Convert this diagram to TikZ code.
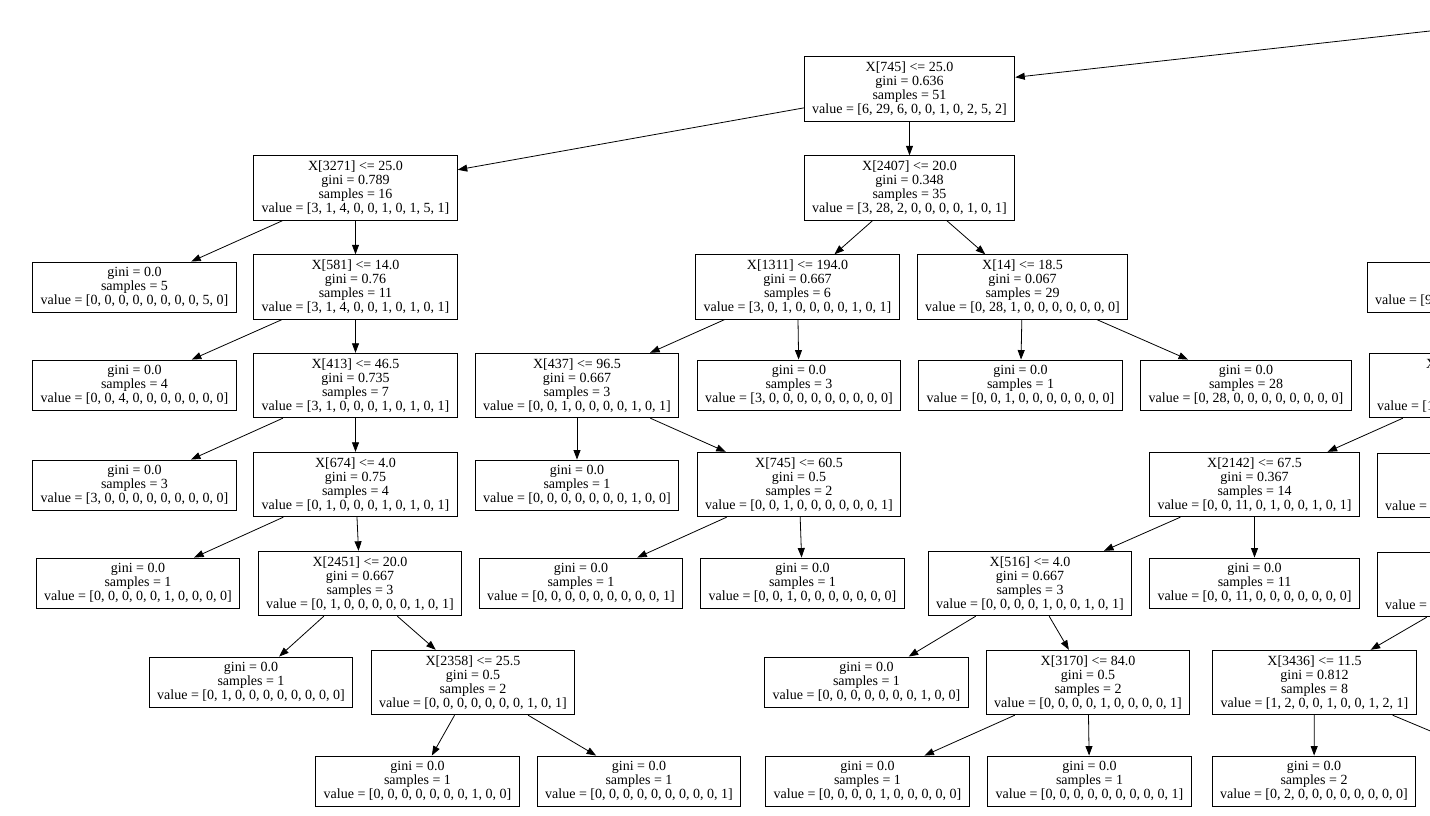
\documentclass[tikz,border=0pt]{standalone}
\usepackage{fontspec}
\setmainfont{Liberation Serif}
\usetikzlibrary{arrows.meta}

\tikzset{
  split/.style={draw, line width=0.9pt, align=center, inner xsep=8pt, inner ysep=0pt,
    minimum height=64.5pt, font=\fontsize{14}{14}\selectfont},
  leaf/.style={split, minimum height=50pt},
  cut/.style={draw, line width=0.9pt, inner sep=0pt},
  frag/.style={inner sep=0pt, anchor=base west, font=\fontsize{14}{14}\selectfont},
  link/.style={line width=0.8pt, -{Triangle[length=9.5pt,width=7pt]}}
}

\begin{document}
\begin{tikzpicture}[x=1pt,y=-1pt]
  \useasboundingbox (0,0) rectangle (1430,816);
  \clip (0,0) rectangle (1430,816);
  \coordinate (up) at (1430,31);
  \coordinate (o28) at (1550,781);
  \node[split] (n0) at (909.5,89) {X[745] <= 25.0\\gini = 0.636\\samples = 51\\value = [6, 29, 6, 0, 0, 1, 0, 2, 5, 2]};
  \node[split] (n1) at (355.5,188) {X[3271] <= 25.0\\gini = 0.789\\samples = 16\\value = [3, 1, 4, 0, 0, 1, 0, 1, 5, 1]};
  \node[split] (n2) at (909.5,188) {X[2407] <= 20.0\\gini = 0.348\\samples = 35\\value = [3, 28, 2, 0, 0, 0, 0, 1, 0, 1]};
  \node[leaf] (n3) at (134.5,287) {gini = 0.0\\samples = 5\\value = [0, 0, 0, 0, 0, 0, 0, 0, 5, 0]};
  \node[split] (n4) at (355.5,287) {X[581] <= 14.0\\gini = 0.76\\samples = 11\\value = [3, 1, 4, 0, 0, 1, 0, 1, 0, 1]};
  \node[split] (n5) at (797.5,287) {X[1311] <= 194.0\\gini = 0.667\\samples = 6\\value = [3, 0, 1, 0, 0, 0, 0, 1, 0, 1]};
  \node[split] (n6) at (1022.5,287) {X[14] <= 18.5\\gini = 0.067\\samples = 29\\value = [0, 28, 1, 0, 0, 0, 0, 0, 0, 0]};
  \node[cut, minimum width=212pt, minimum height=50pt] (c3) at (1473,287) {};
  \node[leaf] (n7) at (134.5,385) {gini = 0.0\\samples = 4\\value = [0, 0, 4, 0, 0, 0, 0, 0, 0, 0]};
  \node[split] (n8) at (355.5,385.5) {X[413] <= 46.5\\gini = 0.735\\samples = 7\\value = [3, 1, 0, 0, 0, 1, 0, 1, 0, 1]};
  \node[split] (n9) at (577,385.5) {X[437] <= 96.5\\gini = 0.667\\samples = 3\\value = [0, 0, 1, 0, 0, 0, 0, 1, 0, 1]};
  \node[leaf] (n10) at (799,385) {gini = 0.0\\samples = 3\\value = [3, 0, 0, 0, 0, 0, 0, 0, 0, 0]};
  \node[leaf] (n11) at (1020.5,385) {gini = 0.0\\samples = 1\\value = [0, 0, 1, 0, 0, 0, 0, 0, 0, 0]};
  \node[leaf] (n12) at (1246,385) {gini = 0.0\\samples = 28\\value = [0, 28, 0, 0, 0, 0, 0, 0, 0, 0]};
  \node[cut, minimum width=214pt, minimum height=64.5pt] (c4) at (1476,385.5) {};
  \node[leaf] (n13) at (134.5,485) {gini = 0.0\\samples = 3\\value = [3, 0, 0, 0, 0, 0, 0, 0, 0, 0]};
  \node[split] (n14) at (355.5,484.5) {X[674] <= 4.0\\gini = 0.75\\samples = 4\\value = [0, 1, 0, 0, 0, 1, 0, 1, 0, 1]};
  \node[leaf] (n15) at (577,485) {gini = 0.0\\samples = 1\\value = [0, 0, 0, 0, 0, 0, 0, 1, 0, 0]};
  \node[split] (n16) at (799,484.5) {X[745] <= 60.5\\gini = 0.5\\samples = 2\\value = [0, 0, 1, 0, 0, 0, 0, 0, 0, 1]};
  \node[split] (n17) at (1254.5,484.5) {X[2142] <= 67.5\\gini = 0.367\\samples = 14\\value = [0, 0, 11, 0, 1, 0, 0, 1, 0, 1]};
  \node[cut, minimum width=212pt, minimum height=64.5pt] (c5) at (1483,485.5) {};
  \node[leaf] (n18) at (138,583) {gini = 0.0\\samples = 1\\value = [0, 0, 0, 0, 0, 1, 0, 0, 0, 0]};
  \node[split] (n19) at (360,583.5) {X[2451] <= 20.0\\gini = 0.667\\samples = 3\\value = [0, 1, 0, 0, 0, 0, 0, 1, 0, 1]};
  \node[leaf] (n20) at (581,583) {gini = 0.0\\samples = 1\\value = [0, 0, 0, 0, 0, 0, 0, 0, 0, 1]};
  \node[leaf] (n21) at (802.5,583) {gini = 0.0\\samples = 1\\value = [0, 0, 1, 0, 0, 0, 0, 0, 0, 0]};
  \node[split] (n22) at (1030,583.5) {X[516] <= 4.0\\gini = 0.667\\samples = 3\\value = [0, 0, 0, 0, 1, 0, 0, 1, 0, 1]};
  \node[leaf] (n23) at (1254.5,583) {gini = 0.0\\samples = 11\\value = [0, 0, 11, 0, 0, 0, 0, 0, 0, 0]};
  \node[cut, minimum width=212pt, minimum height=64.5pt] (c6) at (1483,584.5) {};
  \node[leaf] (n24) at (251,682) {gini = 0.0\\samples = 1\\value = [0, 1, 0, 0, 0, 0, 0, 0, 0, 0]};
  \node[split] (n25) at (473,682.5) {X[2358] <= 25.5\\gini = 0.5\\samples = 2\\value = [0, 0, 0, 0, 0, 0, 0, 1, 0, 1]};
  \node[leaf] (n26) at (866.5,682) {gini = 0.0\\samples = 1\\value = [0, 0, 0, 0, 0, 0, 0, 1, 0, 0]};
  \node[split] (n27) at (1088,682.5) {X[3170] <= 84.0\\gini = 0.5\\samples = 2\\value = [0, 0, 0, 0, 1, 0, 0, 0, 0, 1]};
  \node[split] (n28) at (1314.5,682.5) {X[3436] <= 11.5\\gini = 0.812\\samples = 8\\value = [1, 2, 0, 0, 1, 0, 0, 1, 2, 1]};
  \node[leaf] (n29) at (417.5,781) {gini = 0.0\\samples = 1\\value = [0, 0, 0, 0, 0, 0, 0, 1, 0, 0]};
  \node[leaf] (n30) at (639,781) {gini = 0.0\\samples = 1\\value = [0, 0, 0, 0, 0, 0, 0, 0, 0, 1]};
  \node[leaf] (n31) at (867.5,781) {gini = 0.0\\samples = 1\\value = [0, 0, 0, 0, 1, 0, 0, 0, 0, 0]};
  \node[leaf] (n32) at (1089.5,781) {gini = 0.0\\samples = 1\\value = [0, 0, 0, 0, 0, 0, 0, 0, 0, 1]};
  \node[leaf] (n33) at (1314,781) {gini = 0.0\\samples = 2\\value = [0, 2, 0, 0, 0, 0, 0, 0, 0, 0]};
  \node[frag] (c3t) at (1375,304) {value = [9};
  \node[frag] (c4x) at (1426,368) {X};
  \node[frag] (c4t) at (1377,410) {value = [1};
  \node[frag] (c5t) at (1385,510) {value = [};
  \node[frag] (c6t) at (1385,609) {value = [};
  \draw[link] (up) -- (n0);
  \draw[link] (n0) -- (n1);
  \draw[link] (n0) -- (n2);
  \draw[link] (n1) -- (n3);
  \draw[link] (n1) -- (n4);
  \draw[link] (n2) -- (n5);
  \draw[link] (n2) -- (n6);
  \draw[link] (n4) -- (n7);
  \draw[link] (n4) -- (n8);
  \draw[link] (n5) -- (n9);
  \draw[link] (n5) -- (n10);
  \draw[link] (n6) -- (n11);
  \draw[link] (n6) -- (n12);
  \draw[link] (n8) -- (n13);
  \draw[link] (n8) -- (n14);
  \draw[link] (n9) -- (n15);
  \draw[link] (n9) -- (n16);
  \draw[link] (c4) -- (n17);
  \draw[link] (n14) -- (n18);
  \draw[link] (n14) -- (n19);
  \draw[link] (n16) -- (n20);
  \draw[link] (n16) -- (n21);
  \draw[link] (n17) -- (n22);
  \draw[link] (n17) -- (n23);
  \draw[link] (c6) -- (n28);
  \draw[link] (n19) -- (n24);
  \draw[link] (n19) -- (n25);
  \draw[link] (n22) -- (n26);
  \draw[link] (n22) -- (n27);
  \draw[link] (n25) -- (n29);
  \draw[link] (n25) -- (n30);
  \draw[link] (n27) -- (n31);
  \draw[link] (n27) -- (n32);
  \draw[link] (n28) -- (n33);
  \draw[link] (n28) -- (o28);
\end{tikzpicture}
\end{document}
